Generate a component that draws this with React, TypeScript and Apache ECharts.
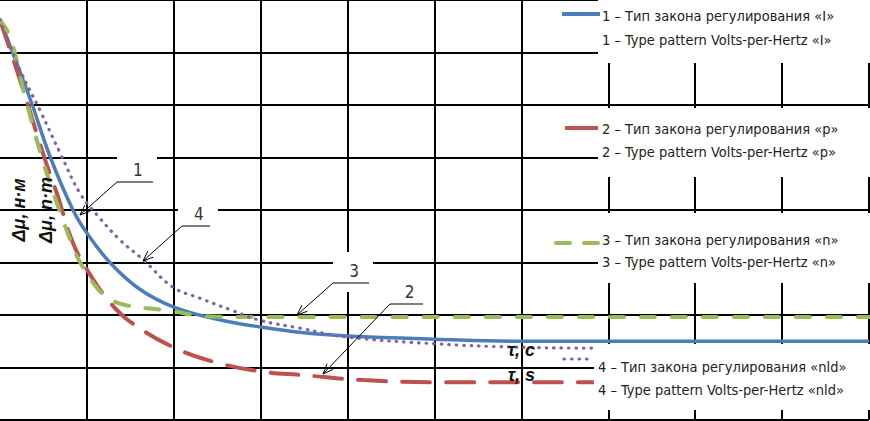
import React, { useEffect, useRef } from "react";
import * as echarts from "echarts";

// axis ranges (grid cells: 10 columns x 8 rows, no tick labels)
const X_MIN = 0;
const X_MAX = 10;
const Y_MIN = 0;
const Y_MAX = 8;

// curve 1 – «I» (blue, solid)
const curve1: number[][] = [
  [0, 7.62], [0.35, 6.1], [0.58, 5.0], [0.84, 4.0], [1.0, 3.56], [1.27, 2.99],
  [1.6, 2.5], [2.0, 2.15], [2.5, 1.92], [3.0, 1.77], [3.5, 1.66], [4.0, 1.6],
  [5.0, 1.54], [6.0, 1.5], [10, 1.5],
];
// curve 2 – «p» (red, long dash)
const curve2: number[][] = [
  [0, 7.62], [0.23, 6.48], [0.52, 4.95], [0.66, 4.29], [0.84, 3.37], [1.04, 2.76],
  [1.27, 2.23], [1.5, 1.87], [1.99, 1.39], [2.5, 1.09], [3.07, 0.91], [3.45, 0.86],
  [4.18, 0.76], [5.14, 0.72], [6.82, 0.72], [10, 0.72],
];
// curve 3 – «n» (green, dash)
const curve3: number[][] = [
  [0, 7.62], [0.115, 7.3], [0.29, 6.15], [0.48, 5.01], [0.67, 4.06], [0.84, 3.3],
  [0.92, 3.01], [1.09, 2.57], [1.23, 2.34], [1.44, 2.19], [1.96, 2.08], [2.34, 1.98],
  [2.99, 1.96], [10, 1.96],
];
// curve 4 – «nld» (purple, dotted)
const curve4: number[][] = [
  [0, 7.62], [0.23, 6.67], [0.46, 5.9], [0.69, 5.09], [0.92, 4.32], [1.12, 3.9],
  [1.38, 3.43], [1.65, 3.05], [1.99, 2.53], [2.3, 2.32], [2.65, 2.1], [2.99, 1.9],
  [3.45, 1.75], [3.99, 1.58], [5.03, 1.45], [5.9, 1.39], [6.82, 1.37], [10, 1.37],
];

const legendRu = [
  "1 – Тип закона регулирования «I»",
  "2 – Тип закона регулирования «p»",
  "3 – Тип закона регулирования «n»",
  "4 – Тип закона регулирования «nld»",
];
const legendEn = [
  "1 – Type pattern Volts-per-Hertz «I»",
  "2 – Type pattern Volts-per-Hertz «p»",
  "3 – Type pattern Volts-per-Hertz «n»",
  "4 – Type pattern Volts-per-Hertz «nld»",
];

const calloutLabels = ["1", "4", "3", "2"];
const calloutElbows: number[][] = [[1.346, 4.533], [2.094, 3.695], [3.832, 2.61], [4.488, 2.21]];
const calloutTips: number[][] = [[0.92, 3.905], [1.646, 3.029], [3.418, 2.0], [3.717, 0.876]];

const yTitles = ["Δμ, н·м", "Δμ, n·m"];
const xTitles = ["τ, c", "τ, s"];

const BLUE = "#4a7ebb";
const RED = "#c0504d";
const GREEN = "#9bbb59";
const PURPLE = "#7d65a5";

const LEG_FONT = "'Liberation Sans Narrow', 'Arial Narrow', 'DejaVu Sans Condensed', sans-serif";

export default function App() {
  const ref = useRef<HTMLDivElement>(null);

  useEffect(() => {
    document.body.style.margin = "0";
    const chart = echarts.init(ref.current!, undefined, { renderer: "svg" });

    const mkSeries = (name: string, data: number[][], color: string, width: number, type: any, cap: any) => ({
      name,
      type: "line",
      data,
      showSymbol: false,
      smooth: 0.4,
      z: 3,
      lineStyle: { color, width, type, cap },
    });

    chart.setOption({
      animation: false,
      grid: { left: 0, top: 0, width: 869, height: 420, containLabel: false },
      xAxis: {
        type: "value",
        min: X_MIN,
        max: X_MAX,
        interval: 1,
        axisLine: { show: false },
        axisTick: { show: false },
        axisLabel: { show: false },
        splitLine: { show: true, showMinLine: false, lineStyle: { color: "#000", width: 2 } },
      },
      yAxis: {
        type: "value",
        min: Y_MIN,
        max: Y_MAX,
        interval: 1,
        axisLine: { show: false },
        axisTick: { show: false },
        axisLabel: { show: false },
        splitLine: { show: true, lineStyle: { color: "#000", width: 2 } },
      },
      series: [
        mkSeries("1", curve1, BLUE, 3.5, "solid", "butt"),
        mkSeries("2", curve2, RED, 4, [28, 16], "round"),
        mkSeries("3", curve3, GREEN, 4, [14, 17], "round"),
        mkSeries("4", curve4, PURPLE, 3.2, [0.5, 7], "round"),
      ],
    });

    const px = (p: number[]) => chart.convertToPixel({ gridIndex: 0 }, p) as number[];
    const els: any[] = [];
    const rect = (x: number, y: number, w: number, h: number) =>
      els.push({ type: "rect", z: 100, shape: { x, y, width: w, height: h }, style: { fill: "#fff" } });
    const line = (x1: number, y1: number, x2: number, y2: number, stroke: string, lineWidth: number, lineDash?: any, cap?: any) =>
      els.push({
        type: "line",
        z: 101,
        shape: { x1, y1, x2, y2 },
        style: { stroke, lineWidth, lineDash, lineCap: cap || "butt" },
      });
    const text = (t: string, x: number, y: number, opts: any = {}) =>
      els.push({
        type: "text",
        z: 102,
        x,
        y,
        rotation: opts.rotation || 0,
        style: {
          text: t,
          fill: opts.fill || "#222",
          fontSize: opts.fontSize || 14,
          fontFamily: opts.fontFamily || LEG_FONT,
          fontWeight: opts.fontWeight || "normal",
          fontStyle: opts.fontStyle || "normal",
          align: opts.align || "left",
          verticalAlign: "middle",
          textAlign: opts.align || "left",
          textVerticalAlign: "middle",
        },
      });

    // legend boxes (white) covering grid on the right
    rect(598, -2, 272, 65);
    rect(598, 108, 272, 69);
    rect(598, 213, 272, 70);
    rect(594, 344, 276, 66);

    // legend samples
    line(562, 14, 600, 14, BLUE, 4);
    line(565, 128, 598, 128, RED, 4);
    line(556, 243, 598, 243, GREEN, 4, [14, 14], "round");
    line(564, 359, 593, 359, PURPLE, 3.2, [0.5, 7], "round");

    const rowsY = [[16, 40], [129, 152], [240, 262], [367, 390]];
    legendRu.forEach((t, i) => {
      const x0 = i === 3 ? 598 : 602;
      text(t, x0, rowsY[i][0], { fontSize: 14.5 });
      text(legendEn[i], x0, rowsY[i][1], { fontSize: 14.5 });
    });

    // callouts
    calloutLabels.forEach((lab, i) => {
      const e = px(calloutElbows[i]);
      const t = px(calloutTips[i]);
      const uw = i === 1 ? 28 : i === 3 ? 33 : 36;
      const cx = e[0] + uw / 2 + 3;
      const cy = e[1] - 12;
      rect(cx - 21, cy - 19, 40, 40);
      line(e[0], e[1], e[0] + uw, e[1], "#555", 1.5);
      line(e[0], e[1], t[0], t[1], "#000", 1);
      const ang = Math.atan2(e[1] - t[1], e[0] - t[0]);
      const L = 11;
      const a = 0.38;
      line(t[0], t[1], t[0] + L * Math.cos(ang + a), t[1] + L * Math.sin(ang + a), "#000", 1);
      line(t[0], t[1], t[0] + L * Math.cos(ang - a), t[1] + L * Math.sin(ang - a), "#000", 1);
      text(lab, cx, cy, { fontSize: 17, align: "center", fill: "#333" });
    });

    // axis titles
    const titleFont = "'Liberation Sans', Arial, sans-serif";
    const tOpts = { fontSize: 18, fontWeight: "bold", fontStyle: "italic", align: "center", fontFamily: titleFont, fill: "#111" };
    text(yTitles[0], 19, 210, { ...tOpts, rotation: Math.PI / 2 });
    text(yTitles[1], 46, 210, { ...tOpts, rotation: Math.PI / 2 });
    const tc = px([6.0, 1.33]);
    const ts = px([6.0, 0.86]);
    text(xTitles[0], tc[0], tc[1], tOpts);
    text(xTitles[1], ts[0], ts[1], tOpts);

    chart.setOption({ graphic: { elements: els } });

    return () => chart.dispose();
  }, []);

  return <div ref={ref} style={{ width: 870, height: 421, position: "absolute", left: 0, top: 0 }} />;
}
